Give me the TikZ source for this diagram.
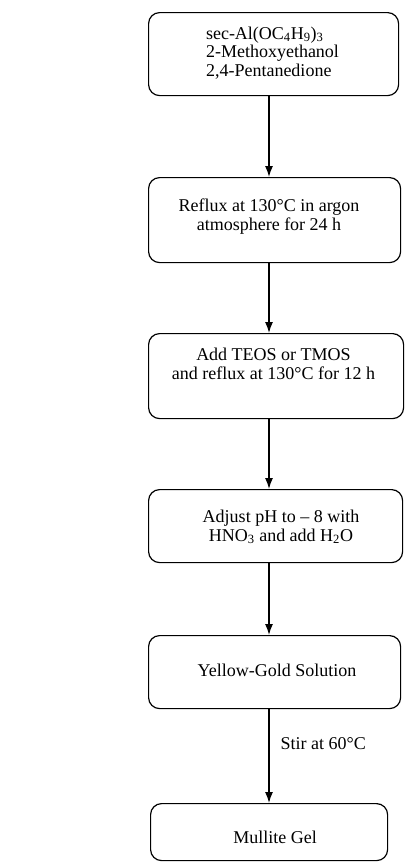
\documentclass[tikz,border=0pt]{standalone}
\usepackage{fontspec}
\setmainfont{Liberation Serif}
\usetikzlibrary{arrows.meta}
\begin{document}
\begin{tikzpicture}[x=1pt,y=-1pt,
  box/.style={draw,line width=1.2pt,rounded corners=11pt,anchor=north west,inner sep=0pt},
  txt/.style={font=\fontsize{18}{18.5}\selectfont,align=center,inner sep=0pt},
  arr/.style={line width=1.3pt,-{Latex[length=11pt,width=8pt]}}]
\useasboundingbox (0,0) rectangle (406,862);
\coordinate (ax) at (269,0);
% boxes
\node[box,minimum width=250pt,minimum height=83pt] (b1) at (148,12) {};
\node[box,minimum width=252pt,minimum height=85pt] (b2) at (148,177) {};
\node[box,minimum width=255pt,minimum height=85pt] (b3) at (148,333) {};
\node[box,minimum width=254pt,minimum height=73pt] (b4) at (148,489) {};
\node[box,minimum width=252pt,minimum height=73pt] (b5) at (148,635) {};
\node[box,minimum width=237pt,minimum height=57pt] (b6) at (150,803) {};
% texts
\node[txt,align=left] (t1) at (272.5,53) {sec-Al(OC\textsubscript{4}H\textsubscript{9})\textsubscript{3}\\2-Methoxyethanol\\2,4-Pentanedione};
\node[txt] (t2) at (269,216.5) {Reflux at 130°C in argon\\atmosphere for 24 h};
\node[txt] (t3) at (273.5,364) {Add TEOS or TMOS\\and reflux at 130°C for 12 h};
\node[txt] (t4) at (281,527) {Adjust pH to – 8 with\\HNO\textsubscript{3} and add H\textsubscript{2}O};
\node[txt] (t5) at (277,670) {Yellow-Gold Solution};
\node[txt] (t6) at (275,837) {Mullite Gel};
% arrows
\draw[arr] (b1.south -| ax) -- (b2.north -| ax);
\draw[arr] (b2.south -| ax) -- (b3.north -| ax);
\draw[arr] (b3.south -| ax) -- (b4.north -| ax);
\draw[arr] (b4.south -| ax) -- (b5.north -| ax);
\draw[arr] (b5.south -| ax) -- node[txt,anchor=west,pos=0.37,xshift=11pt] (lab) {Stir at 60°C} (b6.north -| ax);
\end{tikzpicture}
\end{document}
